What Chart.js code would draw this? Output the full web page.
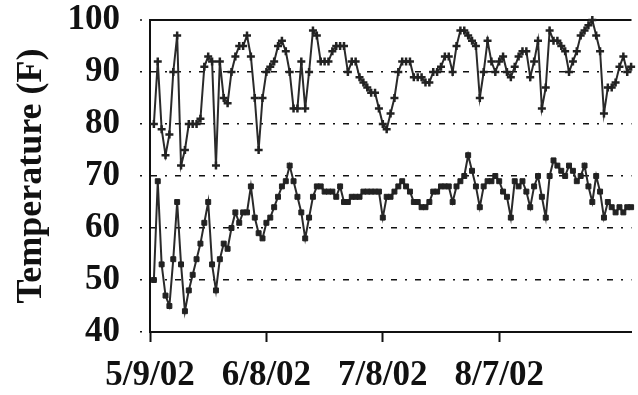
<!DOCTYPE html>
<html lang="en">
<head>
<meta charset="UTF-8">
<title>Temperature (F)</title>
<script src="https://cdn.jsdelivr.net/npm/chart.js@4"></script>
<style>
    html, body { margin: 0; padding: 0; background: #fff; overflow: hidden; }
    #wrap { width: 638px; height: 395px; }
</style>
</head>
<body>
<div id="wrap"><canvas id="tempChart" width="638" height="395"></canvas></div>
<script>
// days counted from 5/9/02, first reading on day 1
var firstDay = 1;
var tickDays = [0, 30, 60, 90];
var tickLabels = ['5/9/02', '6/8/02', '7/8/02', '8/7/02'];

var highTemps = [
    80, 92, 79, 74, 78, 90, 97, 72, 75, 80,
    80, 80, 81, 91, 93, 92, 72, 92, 85, 84,
    90, 93, 95, 95, 97, 93, 85, 75, 85, 90,
    91, 92, 95, 96, 94, 90, 83, 83, 92, 83,
    90, 98, 97, 92, 92, 92, 94, 95, 95, 95,
    90, 92, 92, 89, 88, 87, 86, 86, 83, 80,
    79, 82, 85, 90, 92, 92, 92, 89, 89, 89,
    88, 88, 90, 90, 91, 93, 93, 90, 95, 98,
    98, 97, 96, 95, 85, 90, 96, 92, 90, 92,
    93, 90, 89, 91, 93, 94, 94, 89, 92, 96,
    83, 87, 98, 96, 96, 95, 94, 90, 92, 94,
    97, 98, 99, 100, 97, 94, 82, 87, 87, 88,
    91, 93, 90, 91
];

var lowTemps = [
    50, 69, 53, 47, 45, 54, 65, 53, 44, 48,
    51, 54, 57, 61, 65, 53, 48, 54, 57, 56,
    60, 63, 61, 63, 63, 68, 62, 59, 58, 61,
    62, 64, 66, 68, 69, 72, 69, 66, 63, 58,
    62, 66, 68, 68, 67, 67, 67, 66, 68, 65,
    65, 66, 66, 66, 67, 67, 67, 67, 67, 62,
    66, 66, 67, 68, 69, 68, 67, 65, 65, 64,
    64, 65, 67, 67, 68, 68, 68, 65, 68, 69,
    70, 74, 71, 68, 64, 68, 69, 69, 70, 69,
    67, 66, 62, 69, 68, 69, 67, 64, 68, 70,
    66, 62, 70, 73, 72, 71, 70, 72, 71, 69,
    70, 72, 68, 65, 70, 67, 62, 65, 64, 63,
    64, 63, 64, 64
];

function toPoints(values) {
    return values.map(function(v, i) { return { x: firstDay + i, y: v }; });
}

window.onload = function() {
    var ink = '#111';
    var serif = '"Liberation Serif", "Times New Roman", serif';
    var tickFont = { family: serif, size: 35, weight: 'bold' };
    var titleFont = { family: serif, size: 36, weight: 'bold' };

    var ctx = document.getElementById('tempChart').getContext('2d');
    new Chart(ctx, {
        type: 'line',
        data: {
            datasets: [{
                label: 'High',
                data: toPoints(highTemps),
                borderColor: '#2a2a2a',
                borderWidth: 2,
                pointStyle: 'cross',
                pointRadius: 4,
                pointBorderWidth: 2.5,
                pointBorderColor: '#222',
                pointBackgroundColor: '#222',
                tension: 0,
                clip: false
            }, {
                label: 'Low',
                data: toPoints(lowTemps),
                borderColor: '#2a2a2a',
                borderWidth: 2,
                pointStyle: 'rect',
                pointRadius: 3.5,
                pointBorderWidth: 1,
                pointBorderColor: '#222',
                pointBackgroundColor: '#222',
                tension: 0,
                clip: false
            }]
        },
        options: {
            responsive: false,
            animation: false,
            devicePixelRatio: 1,
            layout: { padding: { top: 20, left: 0, right: 0, bottom: 0 } },
            plugins: {
                legend: { display: false },
                tooltip: { enabled: false }
            },
            scales: {
                x: {
                    type: 'linear',
                    min: 0,
                    max: 124.1,
                    afterBuildTicks: function(scale) {
                        scale.ticks = tickDays.map(function(d) { return { value: d }; });
                    },
                    afterFit: function(scale) {
                        scale.height = 63;
                        scale.paddingLeft = 0;
                        scale.paddingRight = 0;
                    },
                    ticks: {
                        autoSkip: false,
                        maxRotation: 0,
                        padding: 13,
                        color: ink,
                        font: tickFont,
                        callback: function(value) {
                            var k = tickDays.indexOf(value);
                            return k >= 0 ? tickLabels[k] : '';
                        }
                    },
                    grid: { drawOnChartArea: false, tickLength: 10, tickColor: ink, tickWidth: 2 },
                    border: { color: ink, width: 2 }
                },
                y: {
                    min: 40,
                    max: 100,
                    afterFit: function(scale) {
                        scale.width = 150;
                        scale.paddingTop = 0;
                        scale.paddingBottom = 0;
                    },
                    ticks: { stepSize: 10, padding: 20, color: ink, font: tickFont },
                    title: {
                        display: true,
                        text: 'Temperature (F)',
                        color: ink,
                        font: titleFont,
                        padding: { top: 10, bottom: 0 }
                    },
                    grid: {
                        color: function(c) { return c.tick && c.tick.value === 40 ? 'rgba(0,0,0,0)' : ink; },
                        lineWidth: function(c) { return c.tick && c.tick.value === 100 ? 2 : 1.5; },
                        tickLength: 10,
                        tickColor: ink,
                        tickWidth: 1.5,
                        tickBorderDash: [2, 20]
                    },
                    border: {
                        color: ink,
                        width: 2,
                        dash: function(c) { return c.tick && c.tick.value === 100 ? [] : [6, 8, 2, 8]; }
                    }
                }
            }
        }
    });
};
</script>
</body>
</html>
